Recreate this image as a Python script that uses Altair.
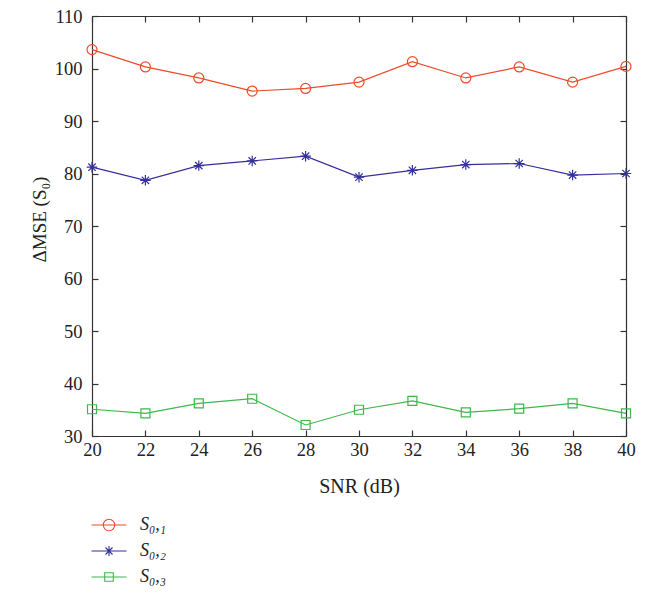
import altair as alt
import pandas as pd

snr = [20, 22, 24, 26, 28, 30, 32, 34, 36, 38, 40]
s01 = [103.6, 100.3, 98.2, 95.7, 96.2, 97.4, 101.3, 98.2, 100.3, 97.4, 100.4]
s02 = [81.2, 78.7, 81.5, 82.4, 83.3, 79.3, 80.6, 81.7, 81.9, 79.7, 80.0]
s03 = [35.1, 34.3, 36.2, 37.1, 32.1, 35.0, 36.7, 34.5, 35.2, 36.2, 34.3]
series_names = ["S₀,₁", "S₀,₂", "S₀,₃"]
colors = ["#EE4B2B", "#33309A", "#3DB84A"]
y_ticks = [30, 40, 50, 60, 70, 80, 90, 100, 110]

rows = []
for name, vals in zip(series_names, [s01, s02, s03]):
    for x, v in zip(snr, vals):
        rows.append({"snr": x, "value": v, "series": name})
df = pd.DataFrame(rows)

ASTER = "M0,-1L0,1M-1,0L1,0M-0.7,-0.7L0.7,0.7M-0.7,0.7L0.7,-0.7"
plot_shapes = ["circle", ASTER, "square"]
plot_sizes = [100, 110, 81]

# legend symbols: line through marker (units of 5 px at symbolSize 100)
LEG_CIRCLE = "M-3.5,0L3.5,0M1.14,0A1.14,1.14,0,1,1,-1.14,0A1.14,1.14,0,1,1,1.14,0"
LEG_ASTER = "M-3.5,0L3.5,0M0,-1L0,1M-0.7,-0.7L0.7,0.7M-0.7,0.7L0.7,-0.7"
LEG_SQUARE = "M-3.5,0L3.5,0M-0.86,-0.86L0.86,-0.86L0.86,0.86L-0.86,0.86Z"
legend_shapes = [LEG_CIRCLE, LEG_ASTER, LEG_SQUARE]

FONT = "Liberation Serif"
AX = "#333333"
TXT = "#222222"

xscale = alt.Scale(domain=[20, 40], nice=False, zero=False)
yscale = alt.Scale(domain=[30, 110], nice=False, zero=False)
cscale = alt.Scale(domain=series_names, range=colors)

legend = alt.Legend(
    title=None, orient="none", legendX=8, legendY=500, padding=0,
    symbolSize=100, symbolStrokeWidth=1.1, symbolOpacity=1,
    labelFont=FONT, labelFontSize=18, labelFontStyle="italic", labelColor=TXT,
    labelOffset=22, rowPadding=8, symbolFillColor="transparent",
)

common = dict(grid=False, domainColor=AX, tickColor=AX, domainWidth=1.2, tickWidth=1.2,
              tickSize=alt.ExprRef("-6"), labelFlush=False)

xaxis = alt.Axis(values=snr, title="SNR (dB)",
                 labelFont=FONT, labelFontSize=18.5, labelColor=TXT, labelPadding=10,
                 titleFont=FONT, titleFontSize=20, titleFontWeight="normal", titleColor=TXT,
                 titleY=56, titleBaseline="alphabetic", **common)
yaxis = alt.Axis(values=y_ticks, title="ΔMSE (S₀)",
                 labelFont=FONT, labelFontSize=18.5, labelColor=TXT, labelPadding=16,
                 titleFont=FONT, titleFontSize=19, titleFontWeight="normal", titleColor=TXT,
                 titleX=-47, titleY=203, titleBaseline="alphabetic", **common)
xaxis_top = alt.Axis(orient="top", values=snr, labels=False, title=None, **common)
yaxis_right = alt.Axis(orient="right", values=y_ticks, labels=False, title=None, **common)

base = alt.Chart(df)

lines = base.mark_line(strokeWidth=1.2).encode(
    x=alt.X("snr:Q", scale=xscale, axis=xaxis),
    y=alt.Y("value:Q", scale=yscale, axis=yaxis),
    color=alt.Color("series:N", scale=cscale, legend=legend),
    detail="series:N",
)

point_layers = []
for name, shp, sz, col in zip(series_names, plot_shapes, plot_sizes, colors):
    point_layers.append(
        base.transform_filter(alt.datum.series == name)
        .mark_point(filled=False, size=sz, strokeWidth=1.2, opacity=1, shape=shp, color=col)
        .encode(
            x=alt.X("snr:Q", scale=xscale, axis=None),
            y=alt.Y("value:Q", scale=yscale, axis=None),
        )
    )

legend_layer = base.mark_point(filled=False, size=100, strokeWidth=1, opacity=0).encode(
    x=alt.X("snr:Q", scale=xscale, axis=None),
    y=alt.Y("value:Q", scale=yscale, axis=None),
    color=alt.Color("series:N", scale=cscale, legend=legend),
    shape=alt.Shape("series:N", scale=alt.Scale(domain=series_names, range=legend_shapes), legend=legend),
)

frame = base.mark_line(opacity=0).encode(
    x=alt.X("snr:Q", scale=xscale, axis=xaxis_top),
    y=alt.Y("value:Q", scale=yscale, axis=yaxis_right),
    detail="series:N",
)

chart = alt.layer(lines, *point_layers, legend_layer, frame).resolve_axis(
    x="independent", y="independent"
).properties(
    width=534, height=420,
    autosize=alt.AutoSizeParams(type="none"),
    padding={"left": 84, "top": 8, "right": 19, "bottom": 150},
).configure_view(stroke=None).configure(background="white")

chart.save("out.html", embed_options={"renderer": "svg", "actions": False})
